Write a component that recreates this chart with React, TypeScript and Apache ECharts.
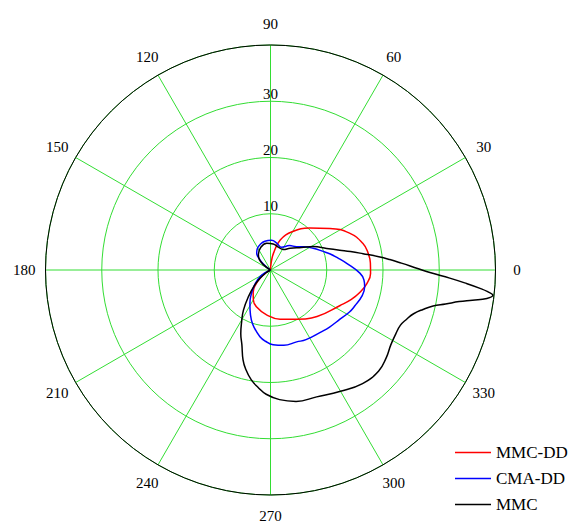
import React, { useEffect, useRef } from "react";
import * as echarts from "echarts";

// ---- data (angle in degrees, radius value) ----
const angleTicks = [0, 30, 60, 90, 120, 150, 180, 210, 240, 270, 300, 330];
const radiusTicks = [10, 20, 30];

const seriesNames = ["MMC-DD", "CMA-DD", "MMC"];
const seriesColors = ["#ff0000", "#0000ff", "#000000"];

const mmcDdAngle = [205, 210, 217, 225, 232, 240, 249, 265, 281, 298, 315, 333, 340, 346, 352, 358, 4, 10, 16, 25, 35, 47, 60, 72, 80, 85, 90];
const mmcDdR = [0, 0.8, 2.2, 3.8, 5.0, 6.1, 7.0, 8.0, 8.9, 9.9, 11.7, 13.9, 15.3, 16.4, 17.3, 17.8, 17.8, 17.6, 17.1, 15.5, 12.9, 10.2, 7.9, 5.6, 3.0, 1.2, 0];

const cmaDdAngle = [205, 210, 218, 225, 232, 238, 243, 249, 254, 261, 266, 272, 280, 290, 297, 309, 316, 323, 332, 337, 344, 350, 354, 358, 5, 10, 15, 20, 27, 35, 42, 52, 64, 77, 88, 101, 112, 121, 129, 136, 142, 146];
const cmaDdR = [0, 1.8, 3.0, 4.2, 5.6, 6.9, 8.0, 9.5, 10.6, 12.0, 12.7, 13.3, 13.6, 13.6, 13.9, 14.2, 14.6, 15.0, 15.9, 16.3, 16.9, 17.0, 16.7, 15.9, 13.6, 12.2, 11.0, 9.8, 8.5, 7.2, 6.2, 5.5, 4.5, 4.9, 5.27, 5.2, 4.9, 4.5, 3.9, 2.6, 1.2, 0];

const mmcAngle = [205, 212, 219, 224, 230, 236, 241, 245, 249, 253, 256, 260, 264, 268, 274, 281, 290, 300, 309, 317, 323, 328, 333, 337, 340, 343, 345.5, 347.5, 349, 350.5, 351.5, 352.5, 353.5, 354.3, 355, 356.2, 357.4, 359, 0.7, 3, 5, 7, 10, 13, 16, 21, 28.6, 36, 48, 58, 71, 84, 98, 113, 128, 137, 143, 150];
const mmcR = [0, 1.0, 2.5, 4.0, 6.0, 8.6, 10.6, 12.5, 14.2, 16.7, 18.2, 19.8, 21.0, 22.1, 23.1, 23.8, 24.0, 24.9, 26.0, 26.3, 25.8, 25.2, 25.0, 25.1, 25.7, 26.6, 28.0, 29.6, 31.7, 34.0, 36.3, 38.8, 39.8, 38.8, 37.4, 34.6, 31.9, 28.5, 26.0, 23.3, 21.3, 19.4, 16.7, 14.6, 12.8, 10.7, 8.7, 6.8, 5.2, 4.3, 4.3, 4.65, 4.8, 4.4, 3.5, 2.7, 1.6, 0];

const seriesAngles = [mmcDdAngle, cmaDdAngle, mmcAngle];
const seriesRadii = [mmcDdR, cmaDdR, mmcR];

const FONT = "Liberation Serif";
const GREEN = "#33dd33";
const CX = 270.5;
const CY = 270;
const R = 225;
const R_MAX = 40;
const ANGLE_LABEL_R = 43.8; // in radius-axis units, just outside the rim

export default function App() {
  const ref = useRef<HTMLDivElement>(null);

  useEffect(() => {
    if (!ref.current) return;
    const chart = echarts.init(ref.current, undefined, { renderer: "svg" });

    const series = seriesNames.map((name, i) => ({
      name,
      type: "line",
      coordinateSystem: "polar",
      polarIndex: 0,
      symbol: "none",
      showSymbol: false,
      smooth: 0.45,
      lineStyle: { color: seriesColors[i], width: 1.5 },
      itemStyle: { color: seriesColors[i] },
      data: seriesAngles[i].map((a, k) => [seriesRadii[i][k], a]),
      z: 5 + i,
    }));

    chart.setOption({
      animation: false,
      backgroundColor: "#ffffff",
      textStyle: { fontFamily: FONT },
      polar: [
        { center: [CX, CY], radius: R },
        { center: [CX, CY], radius: R },
      ],
      angleAxis: [
        {
          polarIndex: 0,
          type: "value",
          min: 0,
          max: 360,
          interval: 30,
          startAngle: 0,
          clockwise: false,
          z: 3,
          axisLine: { show: true, lineStyle: { color: "#000", width: 1 } },
          axisTick: { show: false },
          axisLabel: { show: false },
          splitLine: { show: true, lineStyle: { color: GREEN, width: 1 } },
        },
        {
          polarIndex: 1,
          type: "value",
          min: 0,
          max: 360,
          startAngle: 90,
          clockwise: false,
          show: false,
        },
      ],
      radiusAxis: [
        {
          polarIndex: 0,
          type: "value",
          min: 0,
          max: R_MAX,
          interval: 10,
          axisLine: { show: false },
          axisTick: { show: false },
          axisLabel: { show: false },
          splitLine: { show: true, lineStyle: { color: GREEN, width: 1 } },
        },
        {
          polarIndex: 1,
          type: "value",
          min: 0,
          max: R_MAX,
          interval: 10,
          z: 4,
          axisLine: { show: false },
          axisTick: { show: false },
          splitLine: { show: false },
          axisLabel: {
            margin: 0,
            align: "center",
            verticalAlign: "bottom",
            fontSize: 15,
            fontFamily: FONT,
            color: "#000",
            formatter: (v: number) => (radiusTicks.includes(v) ? String(v) : ""),
          },
        },
      ],
      legend: {
        orient: "vertical",
        left: 450,
        top: 439,
        icon: "rect",
        itemWidth: 36,
        itemHeight: 1.5,
        itemGap: 9,
        textStyle: { fontSize: 17, lineHeight: 17, fontFamily: FONT, color: "#000" },
        data: seriesNames,
      },
      series,
    });

    // angle tick labels, centred on a circle just outside the rim
    const labels = angleTicks.map((a) => {
      const p = chart.convertToPixel({ polarIndex: 0 } as any, [ANGLE_LABEL_R, a]) as number[];
      return {
        type: "text",
        x: p[0],
        y: p[1],
        silent: true,
        style: {
          text: String(a),
          fill: "#000",
          font: `15px ${FONT}`,
          align: "center",
          verticalAlign: "middle",
        },
      };
    });
    chart.setOption({ graphic: labels });

    return () => chart.dispose();
  }, []);

  return (
    <div
      ref={ref}
      style={{ position: "fixed", left: 0, top: 0, width: 573, height: 527 }}
    />
  );
}
